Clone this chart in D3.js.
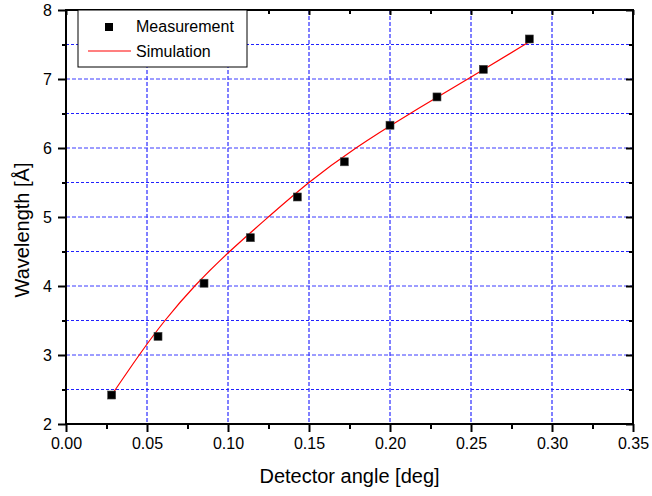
<!DOCTYPE html>
<html>
<head>
<meta charset="utf-8">
<script src="https://cdn.jsdelivr.net/npm/d3@7"></script>
<style>
  body { margin: 0; background: #fff; }
  text { font-family: "Liberation Sans", Arial, sans-serif; fill: #000; }
</style>
</head>
<body>
<script>
// measured points
let measAngle = [0.0282, 0.0568, 0.0852, 0.1138, 0.1428, 0.1718, 0.2000, 0.2290, 0.2576, 0.2860];
let measWave  = [2.42, 3.27, 4.04, 4.70, 5.29, 5.80, 6.33, 6.74, 7.14, 7.58];

// simulation curve
let simAngle = [0.0282, 0.0452, 0.0611, 0.0795, 0.1010, 0.1249, 0.1500, 0.1790, 0.2125, 0.2480, 0.2832, 0.2860];
let simWave  = [2.42, 3.00, 3.50, 4.00, 4.50, 5.00, 5.50, 6.00, 6.50, 7.00, 7.50, 7.55];

let xTicks = [0, 0.05, 0.10, 0.15, 0.20, 0.25, 0.30, 0.35];
let xMinor = [0.025, 0.075, 0.125, 0.175, 0.225, 0.275, 0.325];
let yTicks = [2, 3, 4, 5, 6, 7, 8];
let yMinor = [2.5, 3.5, 4.5, 5.5, 6.5, 7.5];

let W = 652, H = 496;
let margin = {top: 10, right: 19, bottom: 72, left: 66};
let width = W - margin.left - margin.right;
let height = H - margin.top - margin.bottom;

let svg = d3.select('body').append('svg')
    .attr('width', W)
    .attr('height', H)
  .append('g')
    .attr('transform', 'translate(' + margin.left + ',' + margin.top + ')');

let x = d3.scaleLinear().domain([0, 0.35]).range([0, width]);
let y = d3.scaleLinear().domain([2, 8]).range([height, 0]);

// grid
let grid = svg.append('g').attr('class', 'grid');
grid.selectAll('.vgrid').data(xTicks.slice(1, -1)).enter().append('line')
  .attr('x1', d => x(d)).attr('x2', d => x(d))
  .attr('y1', 0).attr('y2', height)
  .style('stroke', '#0000ff').style('stroke-width', 1)
  .style('stroke-dasharray', '4,2');
grid.selectAll('.hgrid').data(yTicks.slice(1, -1)).enter().append('line')
  .attr('x1', 0).attr('x2', width)
  .attr('y1', d => y(d)).attr('y2', d => y(d))
  .style('stroke', '#3a3aff').style('stroke-width', 1)
  .style('stroke-dasharray', '4,2');
grid.selectAll('.hminor').data(yMinor).enter().append('line')
  .attr('x1', 0).attr('x2', width)
  .attr('y1', d => y(d)).attr('y2', d => y(d))
  .style('stroke', '#2020ff').style('stroke-width', 1)
  .style('stroke-dasharray', '3,2');

// axes
function styleAxis(g) {
  g.select('.domain').remove();
  g.selectAll('line').style('stroke', '#000').style('stroke-width', 2);
  g.selectAll('text').style('font-size', '16px');
}

// bottom and left, ticks outside
svg.append('g').attr('transform', 'translate(0,' + height + ')')
  .call(d3.axisBottom(x).tickValues(xTicks).tickSize(8).tickPadding(6).tickFormat(d3.format('.2f')))
  .call(styleAxis);
svg.append('g').attr('transform', 'translate(0,' + height + ')')
  .call(d3.axisBottom(x).tickValues(xMinor).tickSize(5).tickFormat(''))
  .call(styleAxis);
svg.append('g')
  .call(d3.axisLeft(y).tickValues(yTicks).tickSize(8).tickPadding(6).tickFormat(d3.format('d')))
  .call(styleAxis);
svg.append('g')
  .call(d3.axisLeft(y).tickValues(yMinor).tickSize(4).tickFormat(''))
  .call(styleAxis);

// top and right, ticks inside
svg.append('g')
  .call(d3.axisBottom(x).tickValues(xTicks).tickSize(5).tickFormat(''))
  .call(styleAxis);
svg.append('g')
  .call(d3.axisBottom(x).tickValues(xMinor).tickSize(4).tickFormat(''))
  .call(styleAxis);
svg.append('g').attr('transform', 'translate(' + width + ',0)')
  .call(d3.axisLeft(y).tickValues(yTicks).tickSize(7).tickFormat(''))
  .call(styleAxis);
svg.append('g').attr('transform', 'translate(' + width + ',0)')
  .call(d3.axisLeft(y).tickValues(yMinor).tickSize(4).tickFormat(''))
  .call(styleAxis);

// frame
svg.append('rect')
  .attr('width', width).attr('height', height)
  .style('fill', 'none').style('stroke', '#000').style('stroke-width', 2);

// simulation line
let sim = simAngle.map((a, i) => ({a: a, w: simWave[i]}));
let line = d3.line().x(d => x(d.a)).y(d => y(d.w)).curve(d3.curveNatural);
svg.append('path').datum(sim)
  .attr('d', line)
  .style('fill', 'none').style('stroke', '#ff0000').style('stroke-width', 1.2);

// measurement points
let meas = measAngle.map((a, i) => ({a: a, w: measWave[i]}));
svg.selectAll('.pt').data(meas).enter().append('rect')
  .attr('x', d => x(d.a) - 4).attr('y', d => y(d.w) - 4)
  .attr('width', 8).attr('height', 8)
  .style('fill', '#000').style('stroke', '#444').style('stroke-width', 0.6);

// legend
let lg = svg.append('g').attr('transform', 'translate(12,0)');
lg.append('rect').attr('width', 169).attr('height', 57)
  .style('fill', '#fff').style('stroke', '#000').style('stroke-width', 1);
lg.append('rect').attr('x', 27).attr('y', 13).attr('width', 8).attr('height', 8).style('fill', '#000');
lg.append('text').attr('x', 58).attr('y', 22).style('font-size', '16px').text('Measurement');
lg.append('line').attr('x1', 10).attr('x2', 53).attr('y1', 41).attr('y2', 41)
  .style('stroke', '#ff0000').style('stroke-width', 1.2);
lg.append('text').attr('x', 58).attr('y', 47).style('font-size', '16px').text('Simulation');

// titles
svg.append('text')
  .attr('x', width / 2).attr('y', height + 59)
  .attr('text-anchor', 'middle').style('font-size', '20px')
  .text('Detector angle [deg]');
svg.append('text')
  .attr('transform', 'translate(-37,' + (y(5) + 13) + ') rotate(-90)')
  .attr('text-anchor', 'middle').style('font-size', '20px')
  .text('Wavelength [Å]');
</script>
</body>
</html>
